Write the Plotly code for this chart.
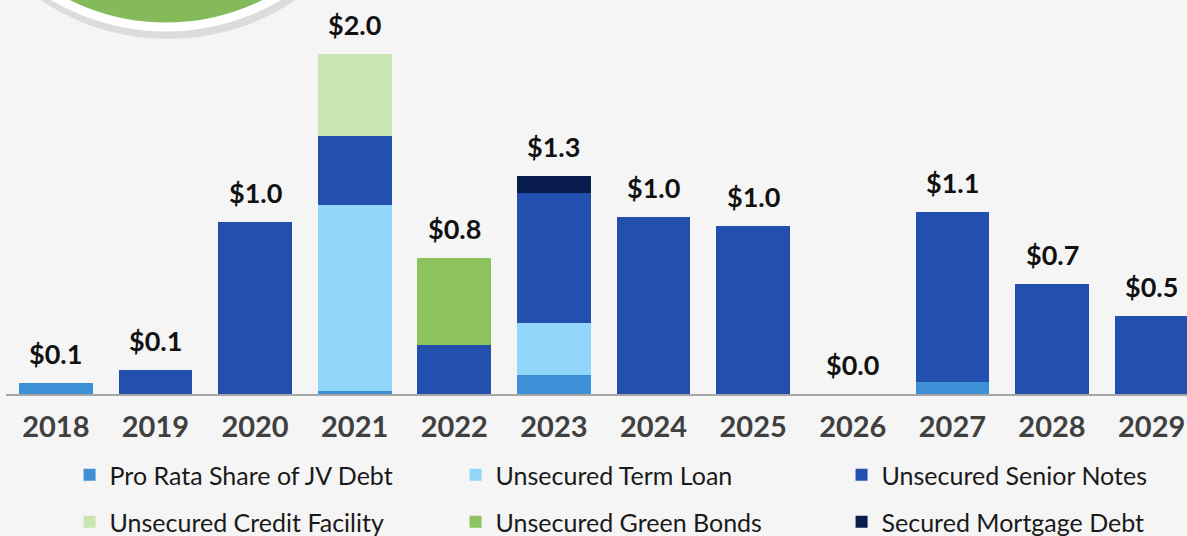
import plotly.graph_objects as go

years = ['2018', '2019', '2020', '2021', '2022', '2023', '2024', '2025', '2026', '2027', '2028', '2029']

# $ billions
jv_debt = [0.065, 0, 0, 0.02, 0, 0.11, 0, 0, 0, 0.07, 0, 0]
term_loan = [0, 0, 0, 1.09, 0, 0.31, 0, 0, 0, 0, 0, 0]
senior_notes = [0, 0.14, 1.01, 0.41, 0.29, 0.76, 1.04, 0.99, 0, 1.0, 0.65, 0.46]
credit_facility = [0, 0, 0, 0.48, 0, 0, 0, 0, 0, 0, 0, 0]
green_bonds = [0, 0, 0, 0, 0.51, 0, 0, 0, 0, 0, 0, 0]
mortgage_debt = [0, 0, 0, 0, 0, 0.1, 0, 0, 0, 0, 0, 0]

totals = [a + b + c + d + e + f for a, b, c, d, e, f in
          zip(jv_debt, term_loan, senior_notes, credit_facility, green_bonds, mortgage_debt)]
total_labels = ['$0.1', '$0.1', '$1.0', '$2.0', '$0.8', '$1.3', '$1.0', '$1.0', '$0.0', '$1.1', '$0.7', '$0.5']

series = [
    ('Pro Rata Share of JV Debt', jv_debt, '#3D8FD6', 'legend'),
    ('Unsecured Term Loan', term_loan, '#93D6FC', 'legend'),
    ('Unsecured Senior Notes', senior_notes, '#2350AE', 'legend'),
    ('Unsecured Credit Facility', credit_facility, '#C9E6B0', 'legend2'),
    ('Unsecured Green Bonds', green_bonds, '#8DC35E', 'legend2'),
    ('Secured Mortgage Debt', mortgage_debt, '#091C4E', 'legend2'),
]

fig = go.Figure()
for name, vals, color, leg in series:
    fig.add_trace(go.Bar(x=years, y=vals, name=name, marker_color=color,
                         marker_line_width=0, legend=leg))

# total labels; x given as category index since years look numeric
for i, (tot, lab) in enumerate(zip(totals, total_labels)):
    fig.add_annotation(x=i, y=tot, xref='x', yref='y', text='<b>' + lab + '</b>',
                       showarrow=False, yanchor='bottom', yshift=11,
                       font=dict(family='Lato', size=27, color='#111111'))

# decorative badge partly off the top-left corner
W, H = 1181.0, 394.0
def px(x):
    return (x - 6) / W
def py(y):
    return (394 - y) / H
cx, cy = 166, -195
fig.add_shape(type='circle', xref='paper', yref='paper', layer='below',
              x0=px(cx - 226), x1=px(cx + 230), y0=py(cy + 234), y1=py(cy - 222),
              fillcolor='rgba(0,0,0,0.10)', line_width=0)
fig.add_shape(type='circle', xref='paper', yref='paper',
              x0=px(cx - 222), x1=px(cx + 222), y0=py(cy + 222), y1=py(cy - 222),
              fillcolor='#84BA5A', line=dict(color='white', width=9))

legend_font = dict(family='Lato', size=25, color='#1a1a1a')
fig.update_layout(
    width=1187, height=536,
    barmode='stack', bargap=0.26,
    paper_bgcolor='#F5F5F5', plot_bgcolor='#F5F5F5',
    margin=dict(l=6, r=0, t=0, b=142, autoexpand=False),
    legend=dict(orientation='h', xref='container', yref='container',
                x=0.0586, y=1 - 475 / 536.0, xanchor='left', yanchor='middle',
                entrywidth=341, entrywidthmode='pixels', font=legend_font,
                bgcolor='rgba(0,0,0,0)', traceorder='normal'),
    legend2=dict(orientation='h', xref='container', yref='container',
                 x=0.0586, y=1 - 522 / 536.0, xanchor='left', yanchor='middle',
                 entrywidth=341, entrywidthmode='pixels', font=legend_font,
                 bgcolor='rgba(0,0,0,0)', traceorder='normal'),
)
fig.update_xaxes(type='category', range=[-0.5, 11.355], showline=True, linecolor='#A6A6A6',
                 linewidth=2, showgrid=False, ticks='outside', ticklen=6, tickcolor='#F5F5F5',
                 tickfont=dict(family='Lato', size=29, color='#404040', weight='bold'))
fig.update_yaxes(range=[0, 2.318], showticklabels=False, showline=False,
                 showgrid=False, zeroline=False, ticks='')

fig.write_html('out.html', config={'displayModeBar': False},
               post_script="document.body.style.margin='0';")
